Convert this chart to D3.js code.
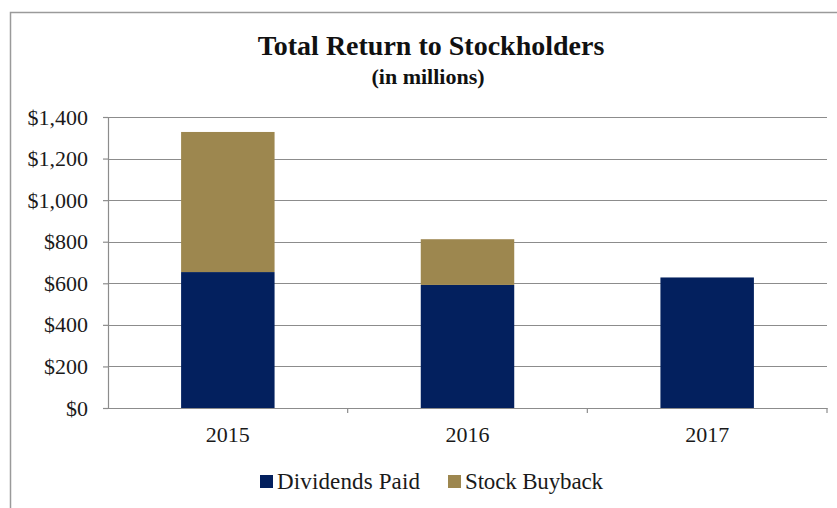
<!DOCTYPE html>
<html><head><meta charset="utf-8">
<script src="https://cdn.jsdelivr.net/npm/d3@7"></script>
<style>body{margin:0;background:#fff;} svg{display:block;}</style>
</head><body>
<svg id="c" width="837" height="508"></svg>
<script>
const categories = ["2015", "2016", "2017"];
const dividendsPaid = [654, 592, 628];
const stockBuyback = [674, 220, 0];
const seriesNames = ["Dividends Paid", "Stock Buyback"];
const yTicks = [0, 200, 400, 600, 800, 1000, 1200, 1400];

const colors = ["#03205e", "#9d874f"];
const svg = d3.select("#c");
const font = "'Liberation Serif','Times New Roman',serif";

// outer border
svg.append("rect").attr("x", 10.5).attr("y", 12.5).attr("width", 835).attr("height", 500)
  .attr("fill", "#fff").attr("stroke", "#9a9a9a").attr("stroke-width", 1.5);

const m = {left: 108, right: 827, top: 117, bottom: 408};
const x = d3.scaleBand().domain(categories).range([m.left, m.right]).paddingInner(0.61).paddingOuter(0.305);
const y = d3.scaleLinear().domain([0, 1400]).range([m.bottom, m.top]);

// gridlines
svg.append("g").selectAll("line").data(yTicks.slice(1)).join("line")
  .attr("x1", m.left).attr("x2", m.right)
  .attr("y1", d => Math.round(y(d)) + 0.5).attr("y2", d => Math.round(y(d)) + 0.5)
  .attr("stroke", "#8c8c8c").attr("stroke-width", 1.2);

// stacked bars
const rows = categories.map((c, i) => ({cat: c, d: dividendsPaid[i], b: stockBuyback[i]}));
const stack = d3.stack().keys(["d", "b"])(rows);
svg.append("g").selectAll("g").data(stack).join("g").attr("fill", (s, i) => colors[i])
  .selectAll("rect").data(s => s).join("rect")
  .attr("x", d => x(d.data.cat)).attr("width", x.bandwidth())
  .attr("y", d => y(d[1])).attr("height", d => y(d[0]) - y(d[1]));

// y axis
const yAxis = d3.axisLeft(y).tickValues(yTicks).tickSize(5).tickPadding(15)
  .tickFormat(d => "$" + d3.format(",")(d));
const gy = svg.append("g").attr("transform", `translate(${m.left},0)`).call(yAxis);
gy.select(".domain").attr("stroke", "#8c8c8c").attr("stroke-width", 1.2);
gy.selectAll(".tick line").attr("stroke", "#8c8c8c").attr("stroke-width", 1.2);
gy.selectAll("text").attr("font-family", font).attr("font-size", 22).attr("fill", "#1a1a1a");

// x axis
const xAxis = d3.axisBottom(x).tickSize(0).tickPadding(18);
const gx = svg.append("g").attr("transform", `translate(0,${m.bottom})`).call(xAxis);
gx.select(".domain").attr("stroke", "#8c8c8c").attr("stroke-width", 1.2);
gx.selectAll("text").attr("font-family", font).attr("font-size", 22).attr("fill", "#1a1a1a");
// category separator ticks
svg.append("g").selectAll("line").data(d3.range(1, categories.length + 1)).join("line")
  .attr("x1", i => m.left + i * (m.right - m.left) / categories.length)
  .attr("x2", i => m.left + i * (m.right - m.left) / categories.length)
  .attr("y1", m.bottom).attr("y2", m.bottom + 5)
  .attr("stroke", "#8c8c8c").attr("stroke-width", 1.2);

// title
svg.append("text").attr("x", 431).attr("y", 55).attr("text-anchor", "middle")
  .attr("font-family", font).attr("font-weight", "bold").attr("font-size", 28).attr("fill", "#111")
  .text("Total Return to Stockholders");
svg.append("text").attr("x", 428).attr("y", 84).attr("text-anchor", "middle")
  .attr("font-family", font).attr("font-weight", "bold").attr("font-size", 22).attr("fill", "#111")
  .text("(in millions)");

// legend
const legX = [260, 448];
const legW = [143, 138];
const lg = svg.append("g").selectAll("g").data(seriesNames).join("g")
  .attr("transform", (d, i) => `translate(${legX[i]},489)`);
lg.append("rect").attr("x", 0).attr("y", -14).attr("width", 13).attr("height", 13)
  .attr("fill", (d, i) => colors[i]);
lg.append("text").attr("x", 17).attr("y", 0).attr("font-family", font).attr("font-size", 23)
  .attr("fill", "#1a1a1a").attr("textLength", (d, i) => legW[i]).attr("lengthAdjust", "spacing")
  .text(d => d);
</script>
</body></html>
